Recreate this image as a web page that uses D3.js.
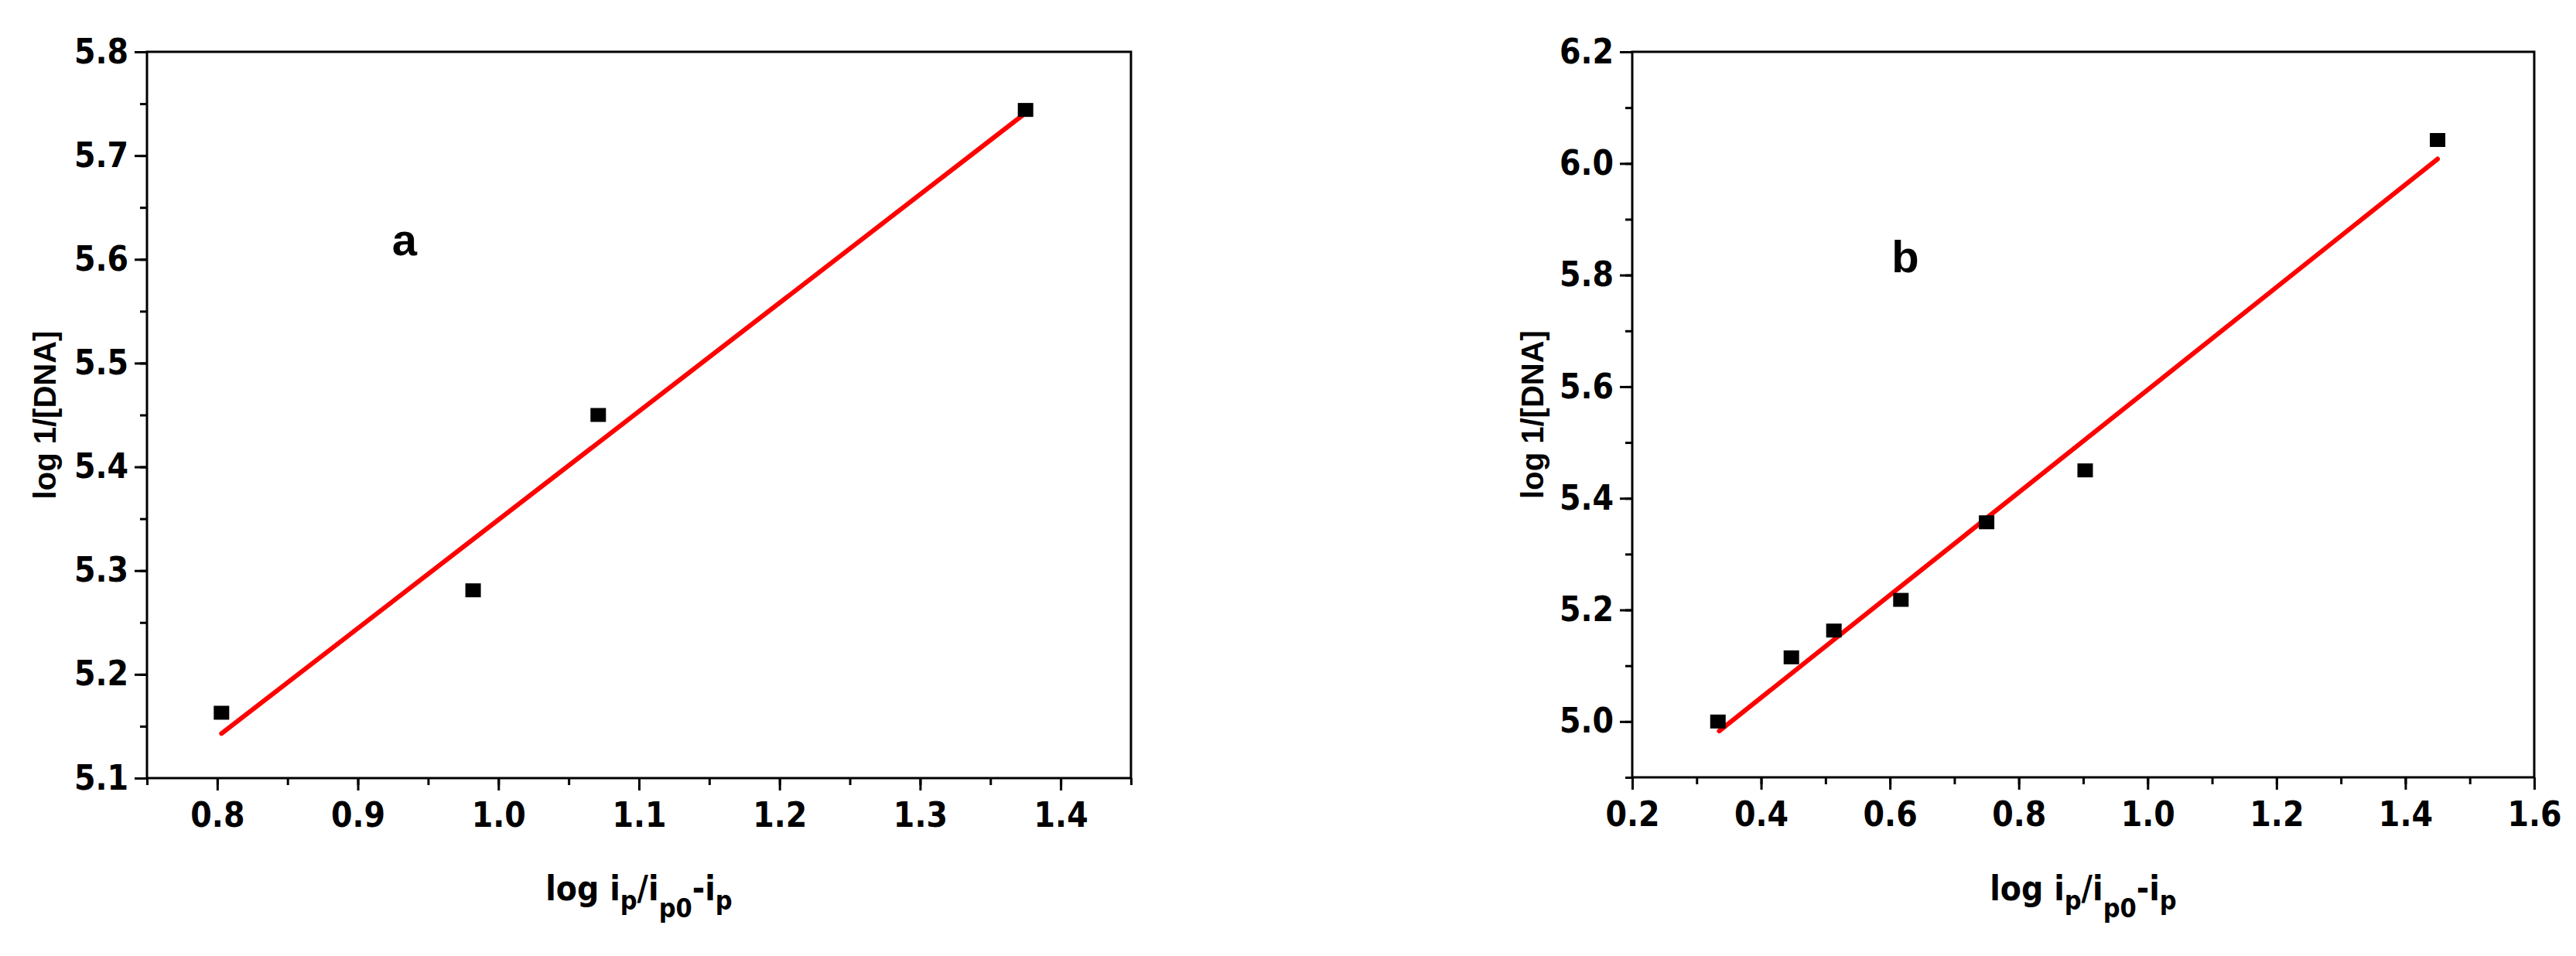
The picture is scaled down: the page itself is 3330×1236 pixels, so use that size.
<!DOCTYPE html>
<html><head><meta charset="utf-8">
<script src="https://cdn.jsdelivr.net/npm/d3@7"></script>
<style>body{margin:0;background:#fff}</style></head>
<body><svg id="c" width="3330" height="1236"></svg>
<script>
const xA = [0.803, 0.982, 1.071, 1.375];
const yA = [5.163, 5.281, 5.450, 5.744];
const fitA = [[0.803, 5.143], [1.375, 5.741]];
const xB = [0.333, 0.447, 0.513, 0.617, 0.750, 0.903, 1.450];
const yB = [5.000, 5.115, 5.163, 5.218, 5.357, 5.450, 6.042];
const fitB = [[0.335, 4.983], [1.450, 6.008]];
const yTitle = 'log 1/[DNA]';

const svg = d3.select('#c');
const tickFont = '"Liberation Sans Narrow", "Arial Narrow", "DejaVu Sans Condensed", sans-serif';
const boldFont = '"Liberation Sans", Arial, sans-serif';

function panel(o) {
  const x = d3.scaleLinear().domain(o.xd).range([o.l, o.r]);
  const y = d3.scaleLinear().domain(o.yd).range([o.b, o.t]);
  const g = svg.append('g');

  g.append('rect').attr('x', o.l).attr('y', o.t).attr('width', o.r - o.l).attr('height', o.b - o.t)
    .attr('fill', 'none').attr('stroke', '#000').attr('stroke-width', 3);

  const minorX = d3.range(o.xd[0], o.xd[1] + 1e-9, o.xm);
  const minorY = d3.range(o.yd[0], o.yd[1] + 1e-9, o.ym);
  g.append('g').attr('transform', `translate(0,${o.b})`)
    .call(d3.axisBottom(x).tickValues(minorX).tickSize(9).tickFormat(''))
    .call(a => a.select('.domain').remove());
  g.append('g').attr('transform', `translate(${o.l},0)`)
    .call(d3.axisLeft(y).tickValues(minorY).tickSize(9).tickFormat(''))
    .call(a => a.select('.domain').remove());
  const ax = g.append('g').attr('transform', `translate(0,${o.b})`)
    .call(d3.axisBottom(x).tickValues(o.xt).tickSize(16).tickPadding(16).tickFormat(d3.format('.1f')));
  const ay = g.append('g').attr('transform', `translate(${o.l},0)`)
    .call(d3.axisLeft(y).tickValues(o.yt).tickSize(16).tickPadding(8).tickFormat(d3.format('.1f')));
  [ax, ay].forEach(a => {
    a.select('.domain').remove();
    a.selectAll('text').style('font-family', tickFont).style('font-weight', 'bold')
      .style('font-size', '44px').attr('fill', '#000');
  });
  g.selectAll('.tick line').attr('stroke', '#000').attr('stroke-width', 3);

  g.append('path').datum(o.fit)
    .attr('d', d3.line().x(d => x(d[0])).y(d => y(d[1])))
    .attr('stroke', '#f00').attr('stroke-width', 6).attr('fill', 'none').attr('stroke-linecap', 'round');

  g.selectAll('rect.pt').data(o.xs).join('rect').attr('class', 'pt')
    .attr('x', d => x(d) - 10).attr('y', (d, i) => y(o.ys[i]) - 9)
    .attr('width', 20).attr('height', 18).attr('fill', '#000');

  g.append('text').attr('x', o.lx).attr('y', o.ly).text(o.label)
    .style('font-family', boldFont).style('font-weight', 'bold')
    .style('font-size', '58px').attr('text-anchor', 'middle');

  g.append('text').attr('transform', `translate(${o.yx},${(o.t + o.b) / 2}) rotate(-90)`)
    .text(yTitle).attr('text-anchor', 'middle')
    .style('font-family', boldFont).style('font-weight', 'bold').style('font-size', '40px');

  const xt = g.append('text').attr('x', (o.l + o.r) / 2).attr('y', 1164).attr('text-anchor', 'middle')
    .style('font-family', tickFont).style('font-weight', 'bold').style('font-size', '44px');
  xt.append('tspan').text('log i');
  xt.append('tspan').text('p').style('font-size', '34px').attr('dy', 12);
  xt.append('tspan').text('/i').attr('dy', -12);
  xt.append('tspan').text('p0').style('font-size', '34px').attr('dy', 22);
  xt.append('tspan').text('-i').attr('dy', -22);
  xt.append('tspan').text('p').style('font-size', '34px').attr('dy', 12);
}

panel({ l: 190, r: 1462, t: 67, b: 1006, xd: [0.75, 1.45], yd: [5.1, 5.8],
  xt: d3.range(0.8, 1.41, 0.1), yt: d3.range(5.1, 5.81, 0.1), xm: 0.05, ym: 0.05,
  xs: xA, ys: yA, fit: fitA, label: 'a', lx: 523, ly: 330, yx: 72 });
panel({ l: 2110, r: 3276, t: 67, b: 1005, xd: [0.2, 1.6], yd: [4.9, 6.2],
  xt: d3.range(0.2, 1.61, 0.2), yt: d3.range(5.0, 6.21, 0.2), xm: 0.1, ym: 0.1,
  xs: xB, ys: yB, fit: fitB, label: 'b', lx: 2463, ly: 352, yx: 1995 });
</script></body></html>
